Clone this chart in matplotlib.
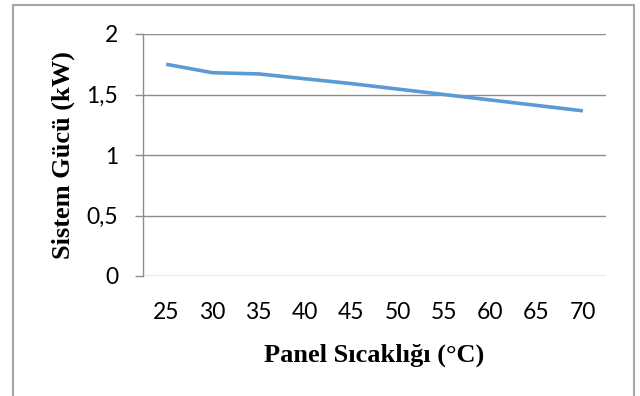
import numpy as np
import matplotlib
matplotlib.use("Agg")
import matplotlib.pyplot as plt
from matplotlib.patches import Rectangle

# data
temperatures = ["25", "30", "35", "40", "45", "50", "55", "60", "65", "70"]
power_kw = [1.75, 1.68, 1.67, 1.63, 1.59, 1.545, 1.50, 1.455, 1.41, 1.365]
y_ticks = [0, 0.5, 1, 1.5, 2]
y_tick_labels = ["0", "0,5", "1", "1,5", "2"]

grid_color = "#8c8c8c"

fig = plt.figure(figsize=(6.4, 3.96), dpi=100)
ax = fig.add_axes([143 / 640, 1 - 276 / 396, (606 - 143) / 640, (276 - 34) / 396])

x = np.arange(len(temperatures))
ax.plot(x, power_kw, color="#5B9BD5", linewidth=2.6, solid_capstyle="butt")

ax.set_xlim(-0.5, len(temperatures) - 0.5)
ax.set_ylim(0, 2)
ax.set_xticks(x)
ax.set_xticklabels(temperatures, family="Lato", fontsize=16.5)
ax.set_yticks(y_ticks)
ax.set_yticklabels(y_tick_labels, family="Lato", fontsize=16.5)

# horizontal gridlines only, like the excel chart
ax.yaxis.grid(True, color=grid_color, linewidth=1.0)
ax.set_axisbelow(True)
for side in ["top", "right", "bottom"]:
    ax.spines[side].set_visible(False)
ax.spines["left"].set_color(grid_color)
ax.spines["left"].set_linewidth(1.0)

ax.tick_params(axis="y", length=6, width=1.0, color=grid_color, pad=12)
ax.tick_params(axis="x", length=0, pad=18.5)

ax.set_xlabel("Panel Sıcaklığı (°C)", family="Liberation Serif", fontweight="bold",
              fontsize=19, labelpad=15)
ax.set_ylabel("Sistem Gücü (kW)", family="Liberation Serif", fontweight="bold",
              fontsize=19, labelpad=8)

# outer chart border (bottom edge falls outside the picture)
border = Rectangle((13 / 640, -0.1), (634 - 13) / 640, 1.1 - 5 / 396,
                   transform=fig.transFigure, fill=False,
                   edgecolor="#a6a6a6", linewidth=1.5)
fig.patches.append(border)

fig.savefig("out.png", dpi=100)
